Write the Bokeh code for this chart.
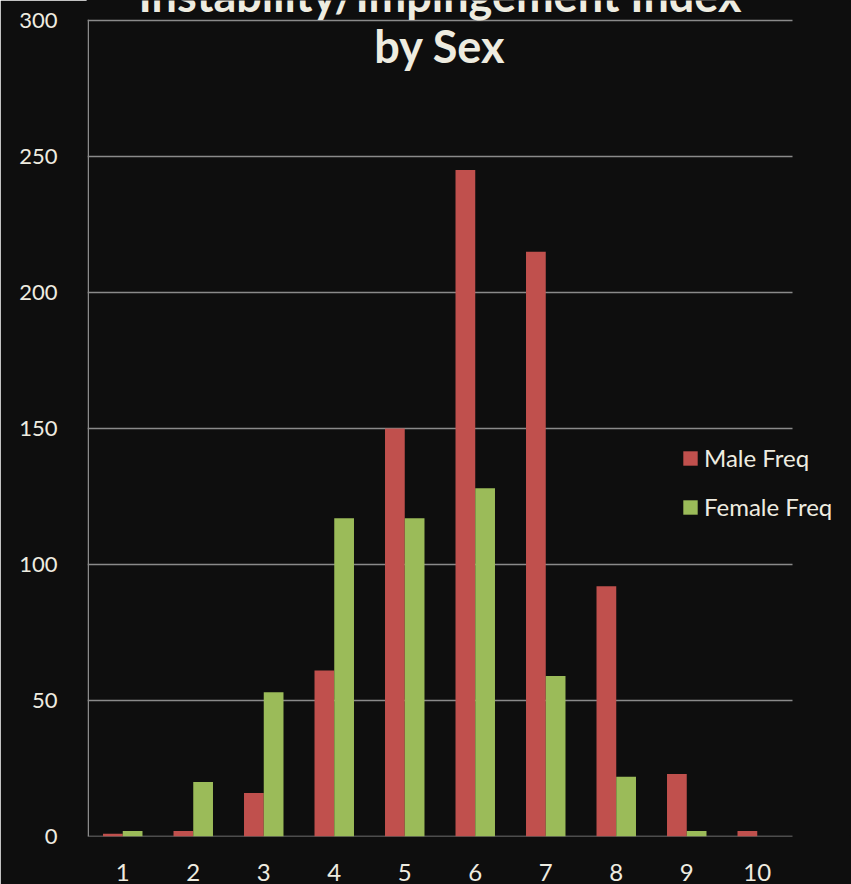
from bokeh.plotting import figure
from bokeh.models import Range1d, FixedTicker, Label, Legend, LegendItem, ColumnDataSource
from bokeh.embed import file_html
from bokeh.resources import INLINE

# Instability/impingement index scores and counts per sex
scores = [1, 2, 3, 4, 5, 6, 7, 8, 9, 10]
male_freq = [1, 2, 16, 61, 150, 245, 215, 92, 23, 2]
female_freq = [2, 20, 53, 117, 117, 128, 59, 22, 2, 0]
y_ticks = [0, 50, 100, 150, 200, 250, 300]

BG = "#0e0e0e"
TEXT = "#eeece0"
GRID = "#8a8a8a"
MALE = "#c0504d"
FEMALE = "#9bbb59"
FONT = "Lato"

# The data frame spans the whole canvas width/top so that the title and the
# legend (which sit partly outside the gridded area) are not clipped.
W, H = 851, 884
LEFT, BOTTOM = 87, 48
GRID_RIGHT_PX, GRID_TOP_PX = 792, 20
x0, x1 = 0.5, 10.5
y0, y1 = 0, 300
px_per_x = (GRID_RIGHT_PX - LEFT) / (x1 - x0)
px_per_y = (H - BOTTOM - GRID_TOP_PX) / (y1 - y0)
x_end = x0 + (W - LEFT) / px_per_x
y_end = y0 + (H - BOTTOM) / px_per_y
RULE_PX = 1.5
hy = RULE_PX / 2 / px_per_y   # half rule thickness, y data units
hx = RULE_PX / 2 / px_per_x   # half rule thickness, x data units

bar_w = 0.28
src = ColumnDataSource(dict(
    xm=[s - bar_w / 2 for s in scores],
    xf=[s + bar_w / 2 for s in scores],
    male=male_freq,
    female=female_freq,
))

p = figure(width=W, height=H, output_backend="svg", toolbar_location=None,
           x_range=Range1d(x0, x_end), y_range=Range1d(y0, y_end),
           min_border_left=LEFT, min_border_right=0,
           min_border_top=0, min_border_bottom=BOTTOM)
p.background_fill_color = BG
p.border_fill_color = BG
p.outline_line_color = BG
p.outline_line_width = 2

# gridlines and axis lines as thin filled bands, limited to the plotted area
rule_y = y_ticks  # includes the baseline at 0
p.quad(left=[x0] * len(rule_y), right=[x1] * len(rule_y),
       bottom=[t - hy for t in rule_y], top=[t + hy for t in rule_y],
       fill_color=GRID, line_color=None)
p.quad(left=[x0], right=[x0 + 2 * hx], bottom=[y0], top=[y1 + hy],
       fill_color=GRID, line_color=None)

rm = p.vbar(x="xm", top="male", width=bar_w, source=src,
            fill_color=MALE, line_color=None)
rf = p.vbar(x="xf", top="female", width=bar_w, source=src,
            fill_color=FEMALE, line_color=None)

# axes (labels only; lines and ticks kept transparent)
p.xaxis.ticker = FixedTicker(ticks=scores)
p.yaxis.ticker = FixedTicker(ticks=y_ticks)
for ax in (p.xaxis[0], p.yaxis[0]):
    ax.axis_line_color = BG
    ax.axis_line_alpha = 0
    ax.major_tick_line_color = BG
    ax.major_tick_line_alpha = 0
    ax.minor_tick_line_color = BG
    ax.minor_tick_line_alpha = 0
    ax.major_label_text_color = TEXT
    ax.major_label_text_font = FONT
p.xaxis.major_label_text_font_size = "24px"
p.yaxis.major_label_text_font_size = "22px"
p.xaxis.major_label_standoff = 21
p.yaxis.major_label_standoff = 24
p.grid.grid_line_color = None

# title, two centred lines
for txt, yv in (("Instability/Impingement Index", 309.5), ("by Sex", 290.8)):
    p.add_layout(Label(x=(x0 + x1) / 2, y=yv, text=txt, text_align="center",
                       text_baseline="alphabetic", text_color=TEXT,
                       text_font=FONT, text_font_style="bold",
                       text_font_size="45px"))

legend = Legend(items=[LegendItem(label="Male Freq", renderers=[rm]),
                       LegendItem(label="Female Freq", renderers=[rf])],
                location=(594, 315), orientation="vertical")
legend.background_fill_alpha = 0
legend.border_line_alpha = 0
legend.padding = 0
legend.margin = 0
legend.glyph_width = 18
legend.glyph_height = 18
legend.label_standoff = 5
legend.label_height = 20
legend.spacing = 20
legend.label_text_color = TEXT
legend.label_text_font = FONT
legend.label_text_font_size = "24px"
p.add_layout(legend, "center")

open("out.html", "w").write(file_html(p, INLINE))
